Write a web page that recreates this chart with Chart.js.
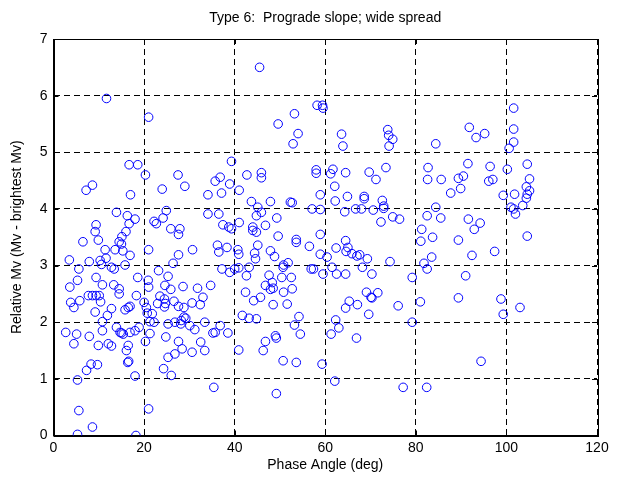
<!DOCTYPE html>
<html>
<head>
<meta charset="utf-8">
<script src="https://cdn.jsdelivr.net/npm/chart.js@4.4.0/dist/chart.umd.min.js"></script>
<style>
  body { margin: 0; background: #fff; }
  canvas { display: block; }
</style>
</head>
<body>
<canvas id="typeChart" width="626" height="485"></canvas>
<script>
// Phase angle (deg) of each observation
const phaseAngle = [
    11.7, 21, 16.7, 18.6, 20.3, 7.2, 8.6, 17.0, 13.9, 16.3, 18.0, 16.7, 9.4, 9.2, 16.0,
    6.5, 9.9, 14.5, 15, 15.1, 11.4, 13.6, 15.3, 16.9, 3.5, 5.6, 7.9, 10.3, 10.6, 11.6,
    12.8, 13.4, 15.8, 18.6, 21, 5.3, 9.4, 3.6, 10.8, 13.3, 14.5, 14.5, 3.8, 4.5, 5.8,
    7.7, 8.6, 9.4, 10.1, 10.4, 18.3, 20.0, 20.5, 12.8, 16.5, 16.9, 15.8, 9.2, 11.9, 10.8,
    2.7, 5.1, 7.9, 10.8, 13.9, 14.7, 15, 15.4, 16.9, 18.0, 18.9, 20.3, 4.5, 9.9, 12.1,
    12.8, 16.5, 16.1, 16.4, 16.6, 8.3, 7.3, 9.7, 5.3, 18.0, 5.6, 8.6, 5.3, 18.2, 21,
    39.3, 27.5, 24.0, 29.0, 34.1, 35.7, 36.8, 37.1, 38.9, 41, 24.9, 22.2, 22.7, 24.2, 25.9,
    27.9, 27.6, 34.1, 36.5, 37.4, 38.7, 39.3, 41,
    27.6, 30.7, 36.2, 36.5, 38.3, 40.7, 40.9, 26.4, 23.2, 25.3, 20.9, 21, 24.6, 25.9, 28.6,
    31.8, 34.7, 37.2, 38.9, 40, 40.9, 33.0, 23.5, 23.0, 24.5, 24.7, 24.5, 26.6, 27.6, 28.8,
    30.6, 32.4, 20.7, 21.8, 21.3, 22.2, 25.3, 26.8, 28.1, 28.2, 28.8, 29.2, 30.1, 31.2, 33.4,
    36.8, 35.2, 35.7, 38.5, 21.3, 24.8, 27.6, 28.4, 26.8, 32.5, 33.4, 30.6, 25.3, 24.3, 26.0,
    40.9, 35.4,
    45.5, 58.2, 59.4, 59.5, 53.2, 49.6, 54.0, 52.9, 42.7, 45.9, 45.9, 58.0, 58.0, 58.9, 43.7,
    47.9, 45.1, 44.8, 45.9, 52.3, 52.7, 57.1, 58.9, 49.3, 46.8, 44.0, 44.0, 44.8, 58.9, 49.6,
    53.6,
    45.1, 53.6, 56.5, 44.4, 44.6, 47.9, 48.8, 58.9, 60.4, 43.2, 42.6, 50.7, 50.8, 51.8, 47.6,
    50.4, 52.5, 56.9, 57.4, 59.5, 48.3, 46.8, 47.9, 48.5, 52.7, 42.4, 50.8, 45.7, 44.2, 48.5,
    51.6, 41.7, 43.2, 44.8, 54.2, 53.2, 54.5, 49.0, 49.2, 46.8, 46.3, 50.7, 53.6, 59.3, 49.2,
    62.1,
    63.6, 63.9, 73.8, 74.0, 74.9, 74.1, 61.7, 61.2, 64.5, 62.1, 69.7, 71.2, 73.4, 62.2, 64.9,
    68.6, 68.6, 72.6, 72.9, 72.9, 64.3, 66.7, 68.0, 70.6, 72.3, 74.9, 76.4,
    64.5, 62.4, 65.0, 64.6, 65.9, 67.0, 67.6, 69.3, 61.5, 68.2, 74.3, 62.5, 64.5, 70.3, 79.2,
    69.1, 70.1, 70.3, 71.6, 65.3, 67.1, 64.5, 69.6, 76.1, 81.0, 62.3, 63.0, 61.3, 79.2, 66.9,
    77.2, 82.4,
    101.6, 101.6, 101.6, 100.6, 91.8, 93.3, 95.2, 84.4, 82.7, 82.6, 85.6, 91.5, 89.4, 90.5, 89.9,
    87.7, 96.4, 96.1, 97.0, 99.3, 100.2, 101.8, 84.4, 82.5, 85.5, 91.6, 94.2, 92.9, 81.3, 83.7,
    89.4, 101.0, 101.6, 102.0,
    104.6, 105.1, 104.4, 105.1, 104.6, 104.4, 103.6, 104.6,
    81.1, 81.8, 82.5, 83.5, 92.4, 97.4, 91.0, 89.4, 98.8, 99.3, 94.4, 103.0
];

// Relative Mv (Mv - brightest Mv), same order as phaseAngle
const relMv = [
    5.95, 5.62, 4.78, 4.78, 4.6, 4.33, 4.42, 4.25, 3.94, 3.88, 3.82, 3.74, 3.72, 3.6, 3.6,
    3.42, 3.45, 3.42, 3.38, 3.51, 3.28, 3.28, 3.26, 3.18, 3.1, 2.94, 3.07, 3.09, 3.02, 3.13,
    2.97, 2.94, 3.01, 2.79, 3.28, 2.74, 2.79, 2.62, 2.66, 2.66, 2.59, 2.5, 2.35, 2.26, 2.38,
    2.47, 2.47, 2.47, 2.47, 2.36, 2.47, 2.35, 2.26, 2.24, 2.26, 2.28, 2.22, 2.18, 2.12, 2.01,
    1.82, 1.79, 1.75, 1.85, 1.91, 1.82, 1.81, 1.79, 1.82, 1.85, 1.91, 1.66, 1.62, 1.59, 1.62,
    1.58, 1.59, 1.5, 1.29, 1.31, 1.26, 1.15, 1.25, 0.98, 1.05, 0.44, 0.15, 0.02, 0.0, 0.47,
    4.84, 4.6, 4.35, 4.4, 4.25, 4.49, 4.56, 4.28, 4.44, 4.33, 3.97, 3.78, 3.74, 3.84, 3.65,
    3.65, 3.55, 3.91, 3.91, 3.72, 3.68, 3.65, 3.76,
    3.19, 3.28, 3.36, 3.24, 3.32, 3.28, 3.2, 3.04, 2.91, 2.81, 2.74, 2.62, 2.65, 2.58, 2.63,
    2.6, 2.65, 2.94, 2.88, 2.94, 2.96, 2.44, 2.46, 2.33, 2.41, 2.33, 2.27, 2.37, 2.28, 2.26,
    2.34, 2.31, 2.16, 2.15, 2.01, 2.0, 1.97, 2.0, 1.97, 2.03, 2.09, 2.07, 1.94, 1.87, 2.0,
    1.94, 1.81, 1.82, 1.81, 1.8, 1.74, 1.66, 1.53, 1.44, 1.65, 1.5, 1.47, 1.38, 1.18, 1.06,
    1.51, 0.85,
    6.5, 5.83, 5.83, 5.78, 5.68, 5.5, 5.33, 5.15, 4.6, 4.64, 4.55, 4.69, 4.63, 4.25, 4.13,
    4.13, 4.03, 3.88, 3.94, 4.12, 4.11, 4.0, 3.99, 3.84, 3.71, 3.68, 3.62, 3.59, 3.55, 3.52,
    3.46,
    3.36, 3.41, 3.34, 3.22, 3.12, 3.26, 3.16, 3.2, 3.15, 2.97, 2.82, 2.97, 3.01, 3.05, 2.83,
    2.79, 2.79, 2.94, 2.94, 2.85, 2.7, 2.65, 2.58, 2.6, 2.59, 2.53, 2.53, 2.44, 2.38, 2.31,
    2.32, 2.12, 2.07, 2.06, 2.1, 1.95, 1.79, 1.76, 1.72, 1.66, 1.5, 1.32, 1.29, 1.26, 0.74,
    0.96,
    5.32, 5.11, 5.4, 5.3, 5.23, 5.11, 4.7, 4.62, 4.64, 4.4, 4.65, 4.52, 4.73, 4.14, 4.22,
    4.22, 4.18, 4.15, 4.05, 4.01, 3.95, 4.0, 4.0, 3.98, 3.77, 3.86, 3.82,
    3.44, 3.31, 3.32, 3.25, 3.21, 3.17, 3.19, 3.12, 2.97, 2.97, 3.07, 2.85, 2.85, 2.85, 2.79,
    2.53, 2.44, 2.43, 2.52, 2.37, 2.31, 2.25, 2.14, 2.29, 2.36, 2.04, 1.9, 1.79, 2.0, 1.72,
    0.85, 0.85,
    5.78, 5.41, 5.18, 5.07, 5.44, 5.26, 5.33, 5.15, 4.73, 4.52, 4.52, 4.8, 4.54, 4.58, 4.36,
    4.28, 4.75, 4.49, 4.52, 4.24, 4.7, 4.26, 4.03, 3.88, 3.84, 3.82, 3.75, 3.64, 3.64, 3.5,
    3.45, 4.03, 4.0, 3.91,
    4.79, 4.53, 4.39, 4.32, 4.26, 4.19, 4.06, 3.52,
    3.43, 3.04, 2.94, 3.15, 3.18, 3.25, 2.82, 2.43, 2.41, 2.14, 1.31, 2.26
];

const xTicks = [0, 20, 40, 60, 80, 100, 120];
const yTicks = [0, 1, 2, 3, 4, 5, 6, 7];

const points = phaseAngle.map((x, i) => ({ x: x, y: relMv[i] }));

// Box round the axes and small inward ticks, MATLAB style
const boxPlugin = {
    id: 'boxPlugin',
    afterDraw(chart) {
        const ctx = chart.ctx;
        const a = chart.chartArea;
        const xs = chart.scales.x;
        const ys = chart.scales.y;
        ctx.save();
        ctx.strokeStyle = '#000';
        ctx.lineWidth = 1;
        ctx.setLineDash([]);
        ctx.beginPath();
        xTicks.forEach(v => {
            const px = Math.round(xs.getPixelForValue(v)) + 0.5;
            ctx.moveTo(px, a.bottom); ctx.lineTo(px, a.bottom - 5);
            ctx.moveTo(px, a.top); ctx.lineTo(px, a.top + 5);
        });
        yTicks.forEach(v => {
            const py = Math.round(ys.getPixelForValue(v)) + 0.5;
            ctx.moveTo(a.left, py); ctx.lineTo(a.left + 5, py);
            ctx.moveTo(a.right, py); ctx.lineTo(a.right - 5, py);
        });
        ctx.stroke();
        ctx.strokeRect(Math.round(a.left) + 0.5, Math.round(a.top) + 0.5,
            Math.round(a.right - a.left), Math.round(a.bottom - a.top));
        ctx.restore();
    }
};

const font = { family: '"Liberation Sans", Arial, sans-serif', size: 14 };

new Chart(document.getElementById('typeChart'), {
    type: 'scatter',
    data: {
        datasets: [{
            data: points,
            pointStyle: 'circle',
            pointRadius: 4.3,
            pointHoverRadius: 4.3,
            borderColor: '#0000ff',
            backgroundColor: 'rgba(0,0,0,0)',
            borderWidth: 1
        }]
    },
    options: {
        responsive: false,
        devicePixelRatio: 1,
        animation: false,
        layout: { padding: { left: 0, right: 29, top: 0, bottom: 0 } },
        plugins: {
            legend: { display: false },
            tooltip: { enabled: false },
            title: {
                display: true,
                text: 'Type 6:  Prograde slope; wide spread',
                color: '#000',
                fullSize: false,
                font: { family: font.family, size: 14, weight: 'normal' },
                padding: { top: 9.5, bottom: 12.7 }
            }
        },
        scales: {
            x: {
                type: 'linear',
                min: 0,
                max: 120,
                afterBuildTicks: s => { s.ticks = xTicks.map(v => ({ value: v })); },
                afterFit: s => { s.height = 49.5; },
                ticks: { color: '#000', font: font, padding: 4, maxRotation: 0 },
                grid: { color: '#000', lineWidth: 1, drawTicks: false },
                border: { color: '#000', width: 1, dash: [6, 4] },
                title: {
                    display: true,
                    text: 'Phase Angle (deg)',
                    color: '#000',
                    font: font,
                    padding: { top: 11, bottom: 11 }
                }
            },
            y: {
                type: 'linear',
                min: 0,
                max: 7,
                afterBuildTicks: s => { s.ticks = yTicks.map(v => ({ value: v })); },
                afterFit: s => { s.width = 53.5; },
                ticks: { color: '#000', font: font, padding: 6 },
                grid: { color: '#000', lineWidth: 1, drawTicks: false },
                border: { color: '#000', width: 1, dash: [6, 4] },
                title: {
                    display: true,
                    text: 'Relative Mv (Mv - brightest Mv)',
                    color: '#000',
                    font: font,
                    padding: { top: 9, bottom: 9 }
                }
            }
        }
    },
    plugins: [boxPlugin]
});
</script>
</body>
</html>
